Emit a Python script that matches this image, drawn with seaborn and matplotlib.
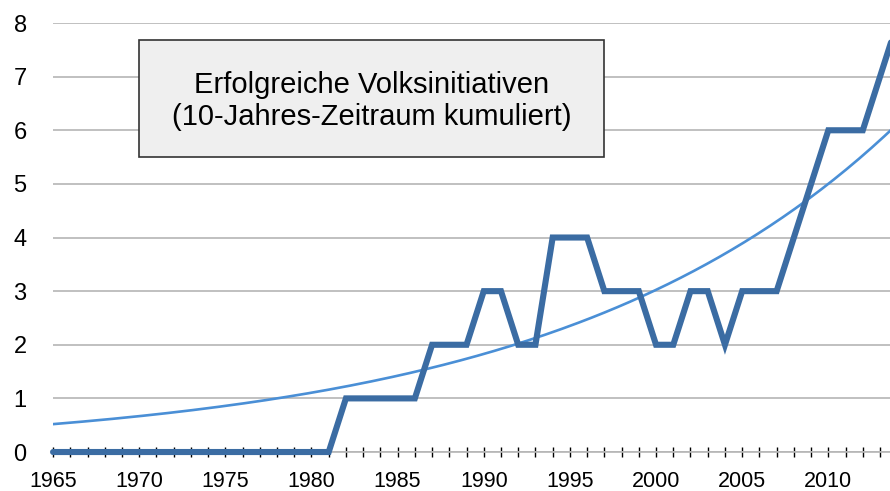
import numpy as np
import pandas as pd
import seaborn as sns
import matplotlib.pyplot as plt
from matplotlib.patches import Rectangle
from matplotlib.ticker import MultipleLocator

# Data
years = list(range(1965, 2015))
initiatives = ([0] * 17 +            # 1965-1981
               [1, 1, 1, 1, 1] +     # 1982-1986
               [2, 2, 2] +           # 1987-1989
               [3, 3] +              # 1990-1991
               [2, 2] +              # 1992-1993
               [4, 4, 4] +           # 1994-1996
               [3, 3, 3] +           # 1997-1999
               [2, 2] +              # 2000-2001
               [3, 3] +              # 2002-2003
               [2] +                 # 2004
               [3, 3, 3] +           # 2005-2007
               [4, 5] +              # 2008-2009
               [6, 6, 6] +           # 2010-2012
               [7, 8])               # 2013-2014

# exponential trendline, parameters
trend_start = 0.52      # value in 1965
trend_growth = 0.0503   # per year

df = pd.DataFrame({"Jahr": years, "Anzahl": initiatives})
trend_years = np.linspace(1965, 2014, 200)
trend = pd.DataFrame({"Jahr": trend_years,
                      "Trend": trend_start * np.exp(trend_growth * (trend_years - 1965))})

sns.set_style("white")
plt.rcParams['font.family'] = ['Liberation Sans', 'DejaVu Sans']

fig = plt.figure(figsize=(8.9, 4.91), dpi=100)
ax = fig.add_axes([0.0596, 0.0794, 0.9404, 0.8737])

sns.lineplot(data=trend, x="Jahr", y="Trend", ax=ax, color="#4a8fd6", linewidth=1.9)
sns.lineplot(data=df, x="Jahr", y="Anzahl", ax=ax, color="#3b6ca3", linewidth=4.4,
             solid_joinstyle="miter", zorder=5, clip_on=False)

ax.set_xlim(1965, 2013.58)
ax.set_ylim(0, 8)
ax.set_xlabel("")
ax.set_ylabel("")

# grid
ax.yaxis.grid(True, color="#b5b5b5", linewidth=1.2)
ax.xaxis.grid(False)
ax.set_axisbelow(True)
for s in ["top", "right", "left"]:
    ax.spines[s].set_visible(False)
ax.spines["bottom"].set_color("#b5b5b5")
ax.spines["bottom"].set_linewidth(1.2)

ax.xaxis.set_major_locator(MultipleLocator(5))
ax.xaxis.set_minor_locator(MultipleLocator(1))
ax.yaxis.set_major_locator(MultipleLocator(1))
ax.tick_params(axis="x", which="both", direction="inout", length=7, width=1,
               color="black", labelsize=15.5, labelcolor="black", pad=10, bottom=True)
ax.tick_params(axis="y", length=0, labelsize=17, labelcolor="black", pad=19)

# title box
ax.add_patch(Rectangle((0.1027, 0.6876), 0.5556, 0.2728, transform=ax.transAxes,
                       facecolor="#efefef", edgecolor="#333333", linewidth=1.2,
                       zorder=6, clip_on=False))
ax.text(0.3805, 0.818, "Erfolgreiche Volksinitiativen\n(10-Jahres-Zeitraum kumuliert)",
        transform=ax.transAxes, ha="center", va="center", fontsize=21,
        color="black", linespacing=1.2, zorder=7)

fig.savefig("out.png", dpi=100)
